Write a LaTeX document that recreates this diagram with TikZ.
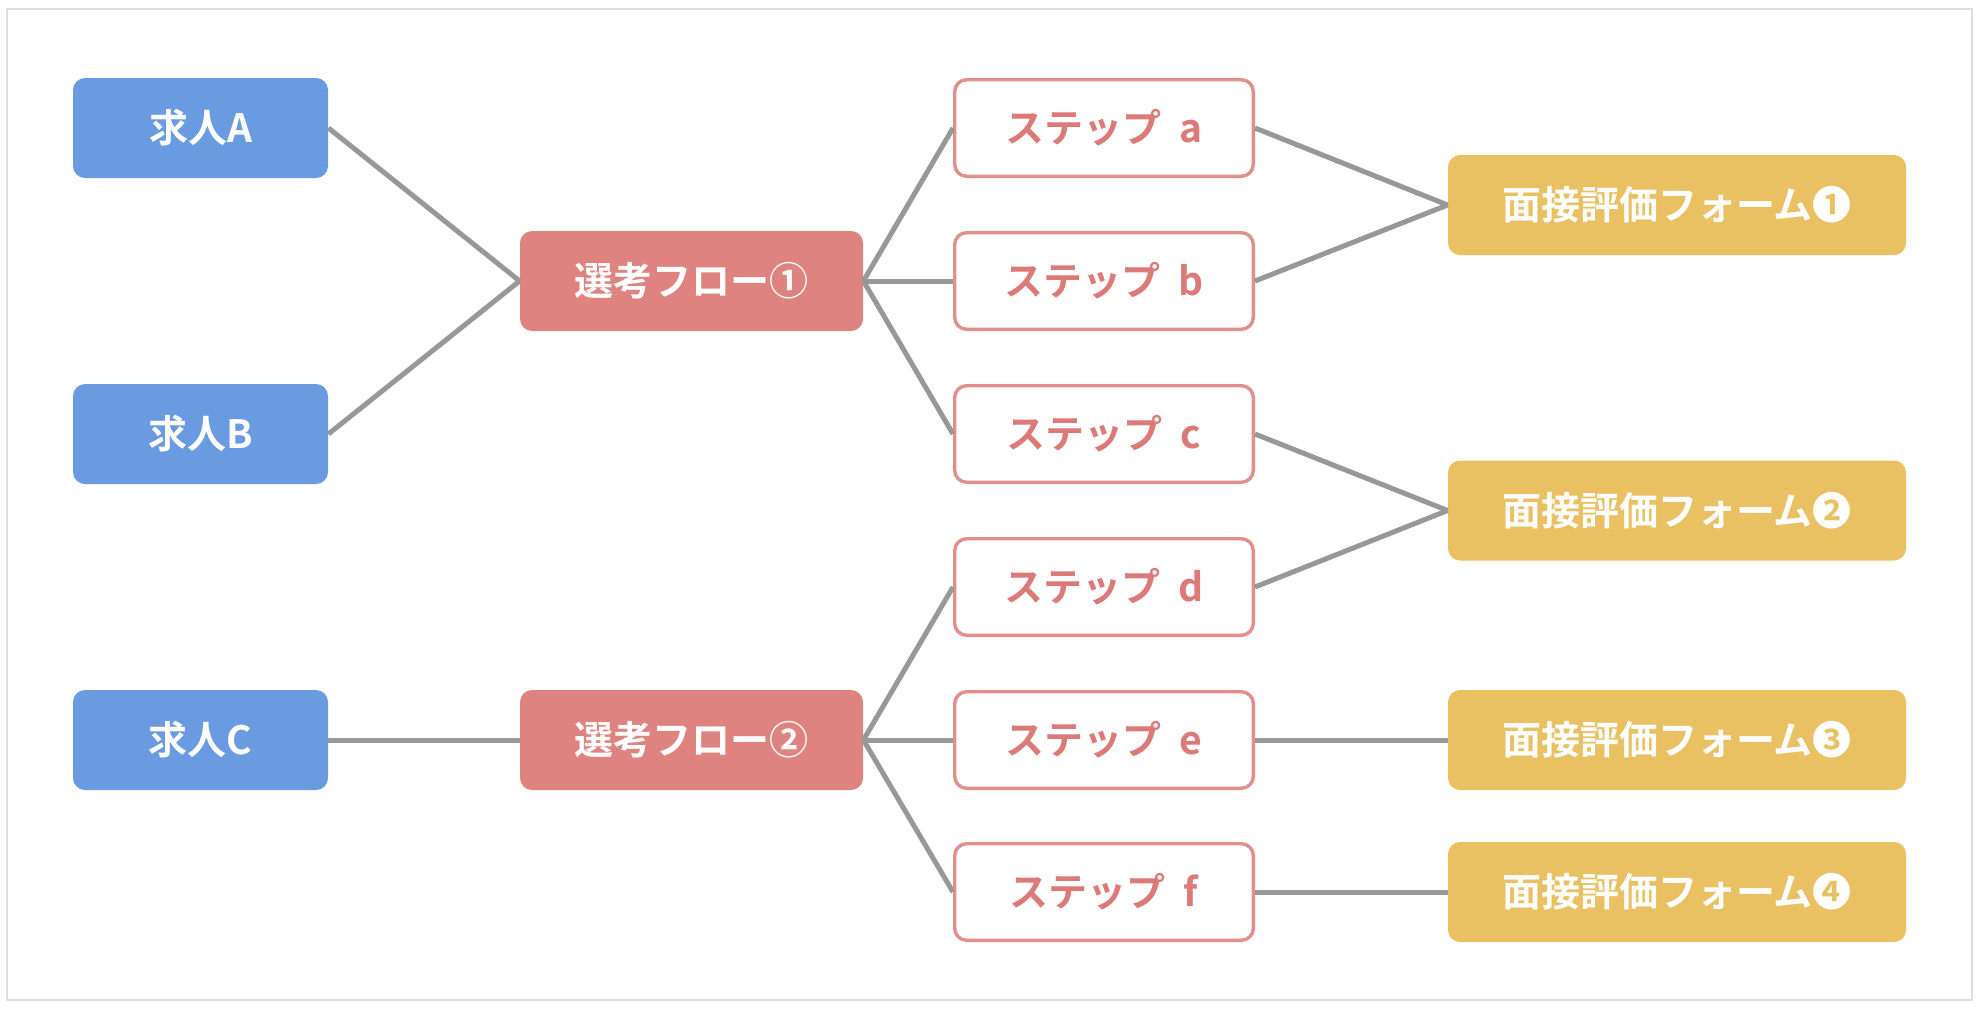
\documentclass[tikz,border=0pt]{standalone}
\usepackage{fontspec}
\newfontfamily\jpfont{Noto Sans CJK JP}[BoldFont={Noto Sans CJK JP Bold}]
\definecolor{jobblue}{HTML}{6A9BE1}
\definecolor{flowred}{HTML}{DF8380}
\definecolor{stepborder}{HTML}{E38E8C}
\definecolor{steptext}{HTML}{DC7A78}
\definecolor{formgold}{HTML}{E9C163}
\definecolor{linkgray}{HTML}{989898}
\definecolor{framegray}{HTML}{DEDEDE}
\newcommand{\stepgap}{\hspace{0.45em}}
\begin{document}
\begin{tikzpicture}[x=0.5pt,y=-0.5pt,
  base/.style={rounded corners=6pt, inner sep=0pt, align=center,
    font=\jpfont\bfseries\fontsize{19.5}{22}\selectfont, minimum height=50pt},
  jobbox/.style={base, fill=jobblue, text=white, minimum width=127.5pt},
  flowbox/.style={base, fill=flowred, text=white, minimum width=171.5pt},
  stepbox/.style={base, fill=white, draw=stepborder, line width=1.7pt, text=steptext,
    minimum width=149.3pt, minimum height=48.3pt},
  formbox/.style={base, fill=formgold, text=white, minimum width=229pt},
  link/.style={draw=linkgray, line width=2.5pt}
]
\useasboundingbox (0,0) rectangle (1984,1012);
\draw[framegray, line width=1.3pt] (7,9) rectangle (1972,1000);

\node[jobbox] (ja) at (200.5,128) {求人A};
\node[jobbox] (jb) at (200.5,434) {求人B};
\node[jobbox] (jc) at (200.5,740) {求人C};

\node[flowbox] (f1) at (691.5,281) {選考フロー①};
\node[flowbox] (f2) at (691.5,740) {選考フロー②};

\node[stepbox] (sa) at (1104,128) {ステップ\stepgap a};
\node[stepbox] (sb) at (1104,281) {ステップ\stepgap b};
\node[stepbox] (sc) at (1104,434) {ステップ\stepgap c};
\node[stepbox] (sd) at (1104,587) {ステップ\stepgap d};
\node[stepbox] (se) at (1104,740) {ステップ\stepgap e};
\node[stepbox] (sf) at (1104,892) {ステップ\stepgap f};

\node[formbox] (m1) at (1677,205) {面接評価フォーム❶};
\node[formbox] (m2) at (1677,510.5) {面接評価フォーム❷};
\node[formbox] (m3) at (1677,740) {面接評価フォーム❸};
\node[formbox] (m4) at (1677,892) {面接評価フォーム❹};

\path[link] (ja.east) -- (f1.west);
\path[link] (jb.east) -- (f1.west);
\path[link] (jc.east) -- (f2.west);
\path[link] (f1.east) -- (sa.west);
\path[link] (f1.east) -- (sb.west);
\path[link] (f1.east) -- (sc.west);
\path[link] (f2.east) -- (sd.west);
\path[link] (f2.east) -- (se.west);
\path[link] (f2.east) -- (sf.west);
\path[link] (sa.east) -- (m1.west);
\path[link] (sb.east) -- (m1.west);
\path[link] (sc.east) -- (m2.west);
\path[link] (sd.east) -- (m2.west);
\path[link] (se.east) -- (m3.west);
\path[link] (sf.east) -- (m4.west);
\end{tikzpicture}
\end{document}
